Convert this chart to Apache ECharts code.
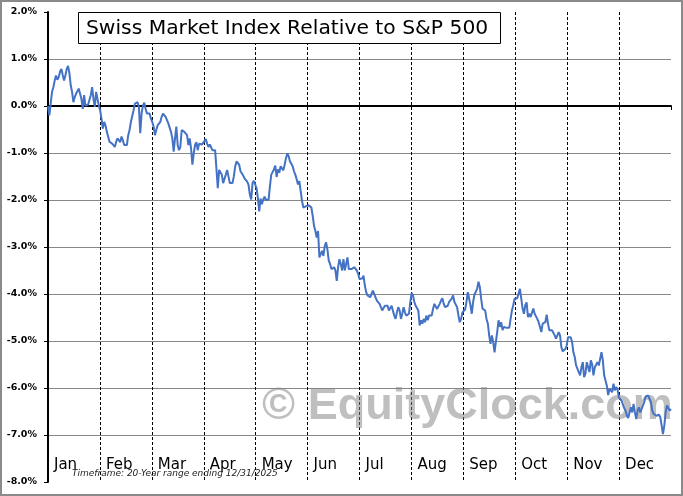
<!DOCTYPE html>
<html>
<head>
<meta charset="utf-8">
<script src="https://cdn.jsdelivr.net/npm/echarts@6/dist/echarts.min.js"></script>
<style>
html,body{margin:0;padding:0;background:#fff;}
#chart{width:683px;height:496px;}
</style>
</head>
<body>
<div id="chart"></div>
<script>
// Month labels for the x axis
const months = ['Jan','Feb','Mar','Apr','May','Jun','Jul','Aug','Sep','Oct','Nov','Dec'];
// Y axis range / ticks (percent)
const yMin = -8, yMax = 2, yStep = 1;

// Relative performance (%), in time order
const relJanMay = [0.00,-0.20,-0.23,0.30,0.40,0.54,0.65,0.56,0.61,0.73,
 0.79,0.66,0.54,0.65,0.79,0.85,0.70,0.44,0.30,0.08,
 0.19,0.26,0.30,0.37,0.40,0.15,-0.06,0.23,0.01,0.05,
 0.03,0.05,0.23,0.40,0.15,-0.02,0.30,0.26,0.01,-0.09,
 -0.27,-0.48,-0.34,-0.41,-0.55,-0.65,-0.76,-0.77,-0.80,-0.82,
 -0.87,-0.76,-0.69,-0.73,-0.77,-0.65,-0.73,-0.83,-0.85,-0.83,
 -0.62,-0.51,-0.34,-0.30,-0.09,0.05,0.01,0.08,-0.02,-0.58,
 -0.16,0.01,0.07,-0.06,-0.16,-0.13,-0.16,-0.27,-0.34,-0.44,
 -0.62,-0.51,-0.41,-0.44,-0.34,-0.23,-0.16,-0.18,-0.23,-0.27,
 -0.37,-0.41,-0.55,-0.69,-0.97,-0.69,-0.44,-0.83,-0.94,-0.87,
 -0.51,-0.49,-0.55,-0.51,-0.62,-0.83,-0.69,-0.90,-1.25,-1.01,
 -0.83,-0.77,-0.94,-0.80,-0.77,-0.82,-0.80,-0.75,-0.70,-0.80,
 -0.87,-0.82,-0.83,-0.94,-0.97,-0.94,-0.97,-1.75,-1.36,-1.39,
 -1.46,-1.64,-1.61,-1.46,-1.36,-1.39,-1.64,-1.61,-1.64,-1.50,
 -1.29,-1.18,-1.15,-1.25,-1.39,-1.43,-1.48,-1.54,-1.57,-1.61,
 -1.68,-1.89,-1.99,-1.64,-1.59,-1.61,-1.75,-1.96,-2.24];

const relMaySep = [-1.97,-2.09,-1.99,-1.93,-2.00,-2.02,-1.99,-1.71,-1.46,-1.48,
 -1.35,-1.27,-1.51,-1.35,-1.42,-1.28,-1.32,-1.37,-1.25,-1.11,
 -1.01,-1.07,-1.18,-1.23,-1.28,-1.39,-1.46,-1.56,-1.67,-1.60,
 -1.81,-2.02,-2.16,-2.16,-2.13,-2.13,-2.11,-2.13,-2.16,-2.34,
 -2.55,-2.66,-2.80,-2.66,-3.22,-3.15,-3.08,-3.19,-2.98,-2.90,
 -3.05,-3.29,-3.36,-3.47,-3.50,-3.43,-3.50,-3.72,-3.43,-3.26,
 -3.36,-3.50,-3.26,-3.50,-3.36,-3.22,-3.47,-3.50,-3.47,-3.47,
 -3.43,-3.47,-3.50,-3.57,-3.68,-3.72,-3.67,-3.61,-3.82,-3.96,
 -4.03,-4.07,-4.07,-4.03,-3.93,-3.89,-4.07,-4.14,-4.10,-4.21,
 -4.28,-4.35,-4.30,-4.25,-4.21,-4.25,-4.35,-4.32,-4.25,-4.28,
 -4.46,-4.53,-4.39,-4.28,-4.35,-4.53,-4.42,-4.28,-4.39,-4.46,
 -4.49,-4.42,-4.17,-3.98,-4.03,-4.17,-4.25,-4.28,-4.35,-4.67,
 -4.56,-4.63,-4.53,-4.60,-4.46,-4.56,-4.46,-4.46,-4.46,-4.32,
 -4.21,-4.20,-4.32,-4.28,-4.21,-4.14,-4.09,-4.21,-4.28,-4.32,
 -4.25,-4.17,-4.14,-4.10,-4.03,-4.17,-4.21,-4.28,-4.46,-4.60,
 -4.53,-4.39,-4.35,-4.33,-4.17,-3.96,-3.98];

const relSepDec = [-4.24,-4.42,-4.17,-4.01,-3.97,-3.89,-3.74,-3.85,-4.10,-4.31,
 -4.33,-4.35,-4.53,-4.63,-4.88,-5.06,-4.88,-5.02,-5.24,-5.02,
 -4.81,-4.56,-4.70,-4.60,-4.77,-4.70,-4.74,-4.72,-4.70,-4.72,
 -4.70,-4.35,-4.24,-4.10,-4.06,-4.09,-3.99,-3.89,-4.10,-4.31,
 -4.42,-4.24,-4.18,-4.49,-4.42,-4.49,-4.45,-4.31,-4.42,-4.45,
 -4.53,-4.60,-4.70,-4.81,-4.63,-4.67,-4.60,-4.44,-4.63,-4.77,
 -4.80,-4.77,-4.81,-4.88,-4.95,-4.92,-4.81,-4.88,-5.13,-5.22,
 -5.20,-5.17,-5.09,-4.92,-4.88,-4.92,-5.02,-5.24,-5.34,-5.52,
 -5.56,-5.66,-5.73,-5.56,-5.45,-5.77,-5.70,-5.45,-5.41,-5.66,
 -5.41,-5.49,-5.73,-5.56,-5.52,-5.45,-5.52,-5.38,-5.24,-5.41,
 -5.73,-5.84,-5.95,-6.15,-6.02,-5.98,-6.09,-5.91,-6.05,-5.98,
 -6.03,-6.20,-6.16,-6.27,-6.30,-6.43,-6.48,-6.59,-6.64,-6.64,
 -6.41,-6.52,-6.34,-6.52,-6.66,-6.48,-6.41,-6.52,-6.45,-6.37,
 -6.30,-6.18,-6.15,-6.16,-6.16,-6.30,-6.48,-6.55,-6.57,-6.59,
 -6.59,-6.57,-6.62,-6.80,-6.98,-6.80,-6.52,-6.37,-6.41,-6.48,
 -6.45];

const titleText = 'Swiss Market Index Relative to S&P 500';
const timeframeText = 'Timeframe: 20-Year range ending 12/31/2025';
const watermarkText = '\u00A9 EquityClock.com';

// Observations are evenly spaced through the year (0 = Jan 1, 12 = Dec 31)
const values = relJanMay.concat(relMaySep, relSepDec);
const n = values.length;
const seriesData = values.map((v, i) => [i * 12 / (n - 1), v]);

const chart = echarts.init(document.getElementById('chart'), null, {renderer: 'canvas'});
chart.setOption({
  animation: false,
  backgroundColor: '#ffffff',
  grid: {left: 48, right: 12, top: 12, bottom: 14, containLabel: false},
  xAxis: [{
    type: 'value', min: 0, max: 12, interval: 1,
    axisLine: {show: true, onZero: true, lineStyle: {color: '#000', width: 2}},
    axisTick: {show: true, inside: false, length: 4, lineStyle: {color: '#000', width: 1}},
    axisLabel: {show: false},
    splitLine: {show: true, showMinLine: false, showMaxLine: false,
      lineStyle: {color: '#000', width: 1, type: [3, 2]}}
  }, {
    type: 'value', min: 0, max: 12, interval: 1, position: 'bottom',
    axisLine: {show: false, onZero: false},
    axisTick: {show: false},
    splitLine: {show: false},
    axisLabel: {
      show: true, inside: true, margin: 9, align: 'left', padding: [0, 0, 0, 6],
      fontFamily: 'DejaVu Sans', fontSize: 15, color: '#000',
      formatter: v => months[v] || ''
    }
  }],
  yAxis: {
    type: 'value', min: yMin, max: yMax, interval: yStep,
    axisLine: {show: true, onZero: false, lineStyle: {color: '#000', width: 2}},
    axisTick: {show: true, inside: false, length: 4, lineStyle: {color: '#000', width: 1}},
    axisLabel: {
      margin: 11, fontFamily: 'DejaVu Sans', fontWeight: 'bold', fontSize: 9.5, color: '#000',
      formatter: v => v.toFixed(1) + '%'
    },
    splitLine: {show: true, showMinLine: false, showMaxLine: false,
      lineStyle: {color: '#888', width: 1}}
  },
  series: [{
    type: 'line', xAxisIndex: 0, yAxisIndex: 0,
    data: seriesData, showSymbol: false, symbol: 'none',
    lineStyle: {color: '#4472C4', width: 2}, z: 5
  }],
  graphic: [
    {type: 'text', x: 262, y: 407, z: 1, silent: true,
      style: {text: watermarkText, font: 'bold 45px "Liberation Sans"', fill: 'rgba(128,128,128,0.5)', verticalAlign: 'middle'}},
    {type: 'rect', z: 50, silent: true, shape: {x: 78.5, y: 12.5, width: 422, height: 31},
      style: {fill: '#fff', stroke: '#000', lineWidth: 1}},
    {type: 'text', x: 86, y: 28.5, z: 51, silent: true,
      style: {text: titleText, font: '20.3px "DejaVu Sans"', fill: '#000', verticalAlign: 'middle'}},
    {type: 'text', x: 72, y: 474, z: 51, silent: true,
      style: {text: timeframeText, font: 'italic 9px "DejaVu Sans"', fill: '#222', verticalAlign: 'middle'}},
    {type: 'rect', z: 100, silent: true, shape: {x: 1, y: 1, width: 681, height: 494},
      style: {fill: 'none', stroke: '#8a8a8a', lineWidth: 2}}
  ]
});
</script>
</body>
</html>
